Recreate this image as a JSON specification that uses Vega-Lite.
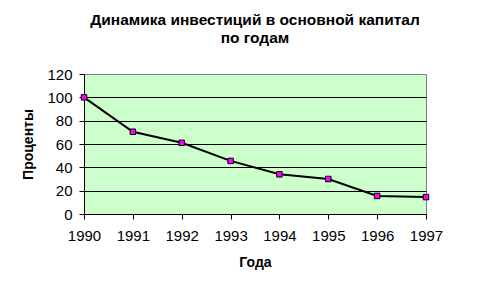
{
  "$schema": "https://vega.github.io/schema/vega-lite/v6.json",
  "autosize": "none",
  "width": 342,
  "height": 140,
  "padding": {"left": 84, "top": 74, "right": 54, "bottom": 77},
  "background": "white",
  "title": {
    "text": ["Динамика инвестиций в основной капитал", "по годам"],
    "font": "Liberation Sans",
    "fontSize": 15.5,
    "fontWeight": "bold",
    "color": "black",
    "lineHeight": 18,
    "offset": 21,
    "anchor": "middle"
  },
  "config": {
    "view": {"fill": "#CCFFCC", "stroke": "#808080", "strokeWidth": 1},
    "axis": {
      "labelFont": "Liberation Sans",
      "labelFontSize": 15,
      "labelColor": "black",
      "titleFont": "Liberation Sans",
      "titleFontSize": 14,
      "titleFontWeight": "bold",
      "titleColor": "black",
      "domainColor": "black",
      "tickColor": "black",
      "tickSize": 5
    }
  },
  "data": {
    "values": [
      {"year": 1990, "value": 100},
      {"year": 1991, "value": 70.5},
      {"year": 1992, "value": 61},
      {"year": 1993, "value": 45.5},
      {"year": 1994, "value": 34},
      {"year": 1995, "value": 30},
      {"year": 1996, "value": 15.5},
      {"year": 1997, "value": 14.5}
    ]
  },
  "encoding": {
    "x": {
      "field": "year",
      "type": "quantitative",
      "title": "Года",
      "scale": {"domain": [1990, 1997], "nice": false, "zero": false},
      "axis": {
        "values": [1990, 1991, 1992, 1993, 1994, 1995, 1996, 1997],
        "format": "d",
        "grid": false,
        "labelPadding": 9,
        "titlePadding": 12,
        "labelFlush": false
      }
    },
    "y": {
      "field": "value",
      "type": "quantitative",
      "title": "Проценты",
      "scale": {"domain": [0, 120], "nice": false},
      "axis": {
        "values": [0, 20, 40, 60, 80, 100, 120],
        "grid": true,
        "gridColor": {"condition": {"test": "datum.value === 120", "value": "#808080"}, "value": "black"},
        "gridOpacity": 1,
        "labelPadding": 7,
        "titlePadding": 11
      }
    }
  },
  "layer": [
    {"mark": {"type": "line", "color": "black", "strokeWidth": 2}},
    {"mark": {"type": "point", "shape": "square", "filled": true, "fill": "#FF00FF", "stroke": "black", "strokeWidth": 1, "size": 30, "opacity": 1}}
  ]
}
